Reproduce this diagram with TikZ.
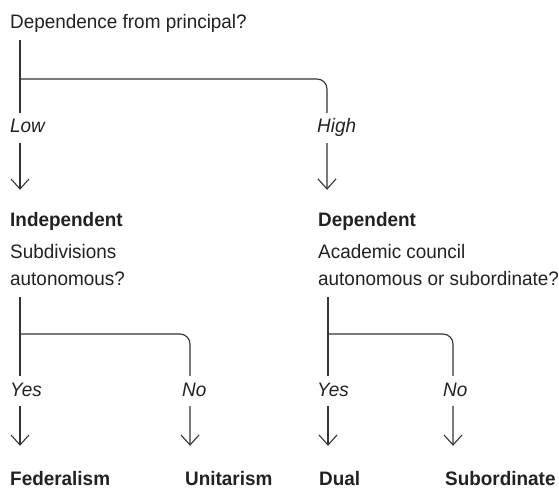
\documentclass[tikz,border=0pt]{standalone}
\usepackage{fontspec}
\setmainfont{Liberation Sans}[FakeStretch=0.97]
\usetikzlibrary{arrows.meta}
\definecolor{ink}{HTML}{222222}
\definecolor{wirec}{HTML}{333333}
\begin{document}
\begin{tikzpicture}[x=1pt,y=-1pt,
  basefont/.style={font=\fontsize{19.5}{23}\selectfont},
  every node/.style={basefont, text=ink},
  wire/.style={draw=wirec, line width=1.1pt},
  arr/.style={wire, -{Straight Barb[length=10pt,width=18pt,line width=1.1pt]}},
  txt/.style={anchor=base west, inner sep=0pt},
  qtext/.style={txt, text depth=11pt},
  desc/.style={txt, text depth=12pt},
  outc/.style={txt, font=\fontsize{19.5}{23}\selectfont\bfseries, text height=36pt},
  outcb/.style={outc, text height=39pt},
  lab/.style={anchor=base west, fill=white, inner xsep=1pt, inner ysep=6pt,
              text height=14pt, text depth=4pt,
              font=\fontsize{19.5}{23}\selectfont\itshape}]
\useasboundingbox (0,0) rectangle (559,489);

% texts
\node[qtext] (q1) at (10,29) {Dependence from principal?};
\node[outc] (ind) at (10,226) {Independent};
\node[txt] (ind1) at (10,258) {Subdivisions};
\node[desc] (ind2) at (10,285) {autonomous?};
\node[outc] (dep) at (318,226) {Dependent};
\node[txt] (dep1) at (318,258) {Academic council};
\node[desc] (dep2) at (318,285) {autonomous or subordinate?};
\node[outcb] (fed) at (10,485) {Federalism};
\node[outcb] (uni) at (185,485) {Unitarism};
\node[outcb] (dual) at (319,485) {Dual};
\node[outcb] (sub) at (445,485) {Subordinate};

% junction coordinates
\coordinate (j1) at (20,79);
\coordinate (xR) at (327,0);
\coordinate (j2) at (20,334);
\coordinate (xLR) at (190,0);
\coordinate (j3) at (328,334);
\coordinate (xRR) at (453,0);

% connectors
\draw[arr] (q1.south -| j1) -- (j1 |- ind.north);
\draw[arr, rounded corners=10pt] (j1) -| (xR |- dep.north);
\draw[arr] (ind2.south -| j2) -- (j2 |- fed.north);
\draw[arr, rounded corners=10pt] (j2) -| (xLR |- uni.north);
\draw[arr] (dep2.south -| j3) -- (j3 |- dual.north);
\draw[arr, rounded corners=10pt] (j3) -| (xRR |- sub.north);

% branch labels
\node[lab] (low) at (9,133) {Low};
\node[lab] (high) at (316,133) {High};
\node[lab] (yes1) at (9,396) {Yes};
\node[lab] (no1) at (181,396) {No};
\node[lab] (yes2) at (316,396) {Yes};
\node[lab] (no2) at (442,396) {No};
\end{tikzpicture}
\end{document}
